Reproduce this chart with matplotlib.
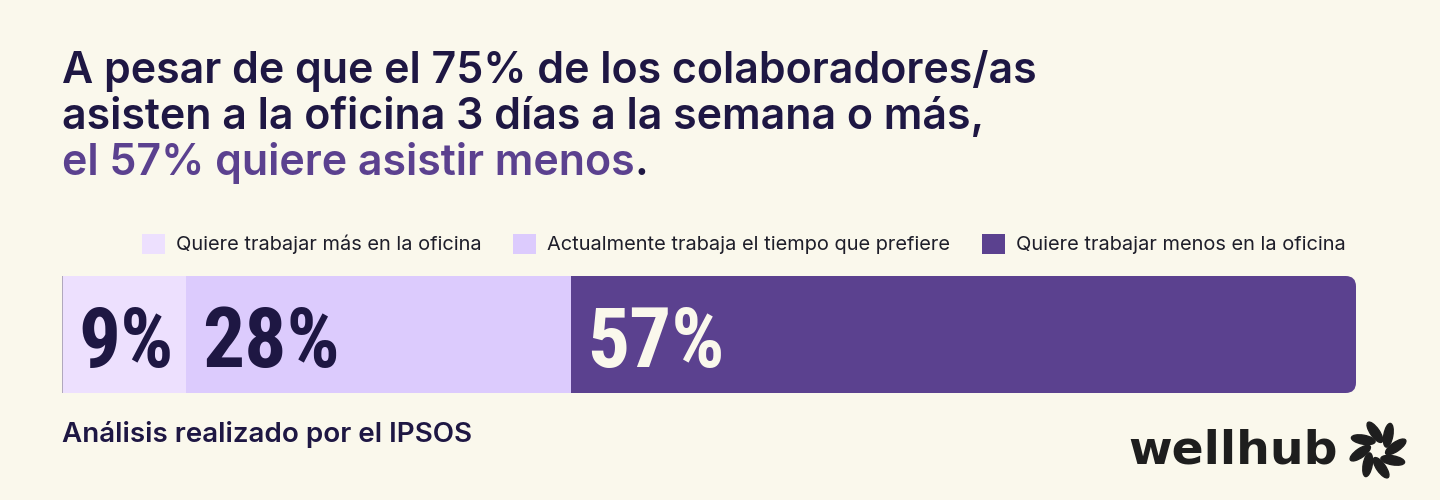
import matplotlib.pyplot as plt
from matplotlib.patches import Patch, Ellipse, FancyBboxPatch
from matplotlib import font_manager as fm
import numpy as np

# Datos
categorias = ['Quiere trabajar más en la oficina',
              'Actualmente trabaja el tiempo que prefiere',
              'Quiere trabajar menos en la oficina']
porcentajes = [9, 28, 57]
colores = ['#EDE0FE', '#DCCBFD', '#5B418F']
colores_etiqueta = ['#1E1743', '#1E1743', '#FAF8EC']

titulo = ['A pesar de que el 75% de los colaboradores/as',
          'asisten a la oficina 3 días a la semana o más,']
titulo_destacado = 'el 57% quiere asistir menos'
fuente_texto = 'Análisis realizado por el IPSOS'

fondo = '#FAF8EC'
oscuro = '#1E1743'
morado = '#5B418F'

# fuente condensada para las cifras, si hay alguna
nombres = {(f.name, f.stretch) for f in fm.fontManager.ttflist}
fam_cifras, tam_cifras, estiramiento = 'Roboto', 50, 'normal'
for nombre, tam in [('Roboto Condensed', 60), ('Liberation Sans Narrow', 59),
                    ('Open Sans Condensed', 58), ('DejaVu Sans Condensed', 52)]:
    if any(n == nombre for n, s in nombres):
        fam_cifras, tam_cifras = nombre, tam
        break
else:
    if any(n == 'DejaVu Sans' and s == 'condensed' for n, s in nombres):
        fam_cifras, tam_cifras, estiramiento = 'DejaVu Sans', 52, 'condensed'

W, H = 1440, 500
fig = plt.figure(figsize=(W / 100, H / 100), dpi=100, facecolor=fondo)

# Título
tam_t = 30.9
for i, linea in enumerate(titulo):
    fig.text(62 / W, 1 - (83 + 46 * i) / H, linea, fontsize=tam_t, family='Inter',
             weight='semibold', color=oscuro, va='baseline')
t3 = fig.text(62 / W, 1 - 175 / H, titulo_destacado, fontsize=tam_t, family='Inter',
              weight='semibold', color=morado, va='baseline')
fig.add_artist(plt.Annotation('.', xy=(1, 0), xycoords=t3, va='bottom', ha='left',
                              fontsize=tam_t, family='Inter', weight='semibold', color=oscuro))

# Barra apilada
x0, x1, y0, y1 = 62, 1356, 276, 393
ax = fig.add_axes([x0 / W, 1 - y1 / H, (x1 - x0) / W, (y1 - y0) / H])
ax.set_facecolor(fondo)
total = sum(porcentajes)
izq = np.concatenate([[0], np.cumsum(porcentajes)[:-1]])
barras = ax.barh(0, porcentajes, left=izq, height=1, color=colores, edgecolor='none')
ax.set_xlim(0, total)
ax.set_ylim(-0.5, 0.5)
ax.axis('off')
ax.axvline(0, color='#A69DB0', lw=1.2)

# esquina redondeada del último segmento
aspecto = (1 / (y1 - y0)) / (total / (x1 - x0))
ult = barras[-1]
clip = FancyBboxPatch((ult.get_x() - 5, -0.5), ult.get_width() + 5, 1,
                      boxstyle='round,pad=0,rounding_size=0.75', mutation_aspect=aspecto,
                      transform=ax.transData, facecolor='none', edgecolor='none')
ax.add_patch(clip)
ult.set_clip_path(clip)

for l, p, c in zip(izq, porcentajes, colores_etiqueta):
    ax.annotate(f'{p}%', xy=(l, 0), xytext=(16, -33), textcoords='offset pixels',
                va='baseline', ha='left', fontsize=tam_cifras, color=c,
                family=[fam_cifras, 'DejaVu Sans'], fontstretch=estiramiento, weight='bold')

# Leyenda
handles = [Patch(facecolor=c, edgecolor='none') for c in colores]
fig.legend(handles, categorias, ncol=3, loc='center right',
           bbox_to_anchor=(1356 / W, 1 - 244 / H), frameon=False, borderpad=0,
           prop={'family': 'Inter', 'size': 14.4},
           handlelength=1.15, handleheight=1.15, handletextpad=0.55,
           columnspacing=1.6, labelcolor='#1E1E2A')

# Fuente
fig.text(62 / W, 1 - 442 / H, fuente_texto, fontsize=20, family='Inter',
         weight='semibold', color=oscuro, va='baseline')

# Logo
fig.text(1338 / W, 1 - 464 / H, 'wellhub', fontsize=34, family='DejaVu Sans',
         weight='bold', color='#1E1E1E', va='baseline', ha='right')
axl = fig.add_axes([1348 / W, 1 - 480 / H, 60 / W, 60 / H])
axl.set_xlim(-1, 1)
axl.set_ylim(-1, 1)
axl.set_aspect('equal')
axl.axis('off')
for k in range(8):
    th = np.deg2rad(k * 45 + 10)
    axl.add_patch(Ellipse((0.6 * np.cos(th), 0.6 * np.sin(th)), 0.8, 0.3,
                          angle=np.rad2deg(th) + 25, color='#1E1E1E'))

fig.savefig('out.png', dpi=100, facecolor=fondo)
